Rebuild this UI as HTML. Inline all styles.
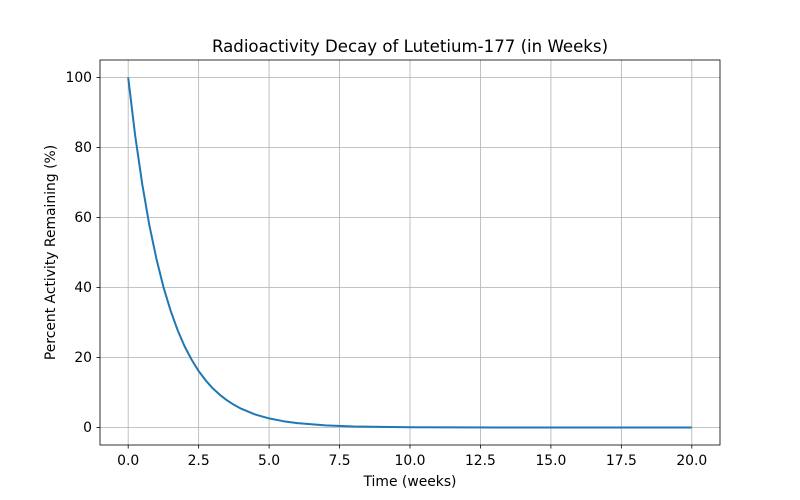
<!DOCTYPE html>
<html><head><meta charset="utf-8"><style>body{margin:0;background:#fff}svg{display:block}</style></head>
<body>
<svg width="800" height="500" xmlns="http://www.w3.org/2000/svg" font-family="DejaVu Sans, sans-serif">
<rect width="800" height="500" fill="#fff"/>
<g stroke="#b0b0b0" stroke-width="0.8">
<line x1="128.18" y1="60" x2="128.18" y2="445"/>
<line x1="198.64" y1="60" x2="198.64" y2="445"/>
<line x1="269.09" y1="60" x2="269.09" y2="445"/>
<line x1="339.55" y1="60" x2="339.55" y2="445"/>
<line x1="410" y1="60" x2="410" y2="445"/>
<line x1="480.45" y1="60" x2="480.45" y2="445"/>
<line x1="550.91" y1="60" x2="550.91" y2="445"/>
<line x1="621.36" y1="60" x2="621.36" y2="445"/>
<line x1="691.82" y1="60" x2="691.82" y2="445"/>
<line x1="100" y1="427.5" x2="720" y2="427.5"/>
<line x1="100" y1="357.5" x2="720" y2="357.5"/>
<line x1="100" y1="287.5" x2="720" y2="287.5"/>
<line x1="100" y1="217.5" x2="720" y2="217.5"/>
<line x1="100" y1="147.5" x2="720" y2="147.5"/>
<line x1="100" y1="77.5" x2="720" y2="77.5"/>
</g>
<polyline fill="none" stroke="#1f77b4" stroke-width="2" stroke-linejoin="round" points="128.18,77.5 135.2,135.8 142.3,184.5 149.3,224.95 156.4,258.7 163.4,286.9 170.5,310.3 177.5,329.85 184.5,346.1 191.6,359.6 198.6,371.0 205.7,380.4 212.7,388.3 219.8,394.8 226.8,400.2 233.9,404.8 240.9,408.6 255.0,414.4 269.1,418.4 283.2,421.2 297.3,423.1 325.4,425.4 353.6,426.5 410.0,427.26 500,427.45 691.82,427.5"/>
<rect x="100" y="60" width="620" height="385" fill="none" stroke="#000" stroke-width="0.8"/>
<g stroke="#000" stroke-width="0.8">
<line x1="128.18" y1="445" x2="128.18" y2="448.5"/>
<line x1="198.64" y1="445" x2="198.64" y2="448.5"/>
<line x1="269.09" y1="445" x2="269.09" y2="448.5"/>
<line x1="339.55" y1="445" x2="339.55" y2="448.5"/>
<line x1="410" y1="445" x2="410" y2="448.5"/>
<line x1="480.45" y1="445" x2="480.45" y2="448.5"/>
<line x1="550.91" y1="445" x2="550.91" y2="448.5"/>
<line x1="621.36" y1="445" x2="621.36" y2="448.5"/>
<line x1="691.82" y1="445" x2="691.82" y2="448.5"/>
<line x1="96.5" y1="427.5" x2="100" y2="427.5"/>
<line x1="96.5" y1="357.5" x2="100" y2="357.5"/>
<line x1="96.5" y1="287.5" x2="100" y2="287.5"/>
<line x1="96.5" y1="217.5" x2="100" y2="217.5"/>
<line x1="96.5" y1="147.5" x2="100" y2="147.5"/>
<line x1="96.5" y1="77.5" x2="100" y2="77.5"/>
</g>
<g font-size="13.9" fill="#000" text-anchor="middle">
<text x="128.18" y="465">0.0</text>
<text x="198.64" y="465">2.5</text>
<text x="269.09" y="465">5.0</text>
<text x="339.55" y="465">7.5</text>
<text x="410" y="465">10.0</text>
<text x="480.45" y="465">12.5</text>
<text x="550.91" y="465">15.0</text>
<text x="621.36" y="465">17.5</text>
<text x="691.82" y="465">20.0</text>
<text x="410" y="486">Time (weeks)</text>
</g>
<g font-size="13.9" fill="#000" text-anchor="end">
<text x="92" y="432">0</text>
<text x="92" y="362">20</text>
<text x="92" y="292">40</text>
<text x="92" y="222">60</text>
<text x="92" y="152">80</text>
<text x="92" y="82">100</text>
</g>
<text transform="translate(55,252.5) rotate(-90)" font-size="13.9" text-anchor="middle">Percent Activity Remaining (%)</text>
<text x="410" y="52" font-size="16.6" text-anchor="middle">Radioactivity Decay of Lutetium-177 (in Weeks)</text>
</svg>
</body></html>
